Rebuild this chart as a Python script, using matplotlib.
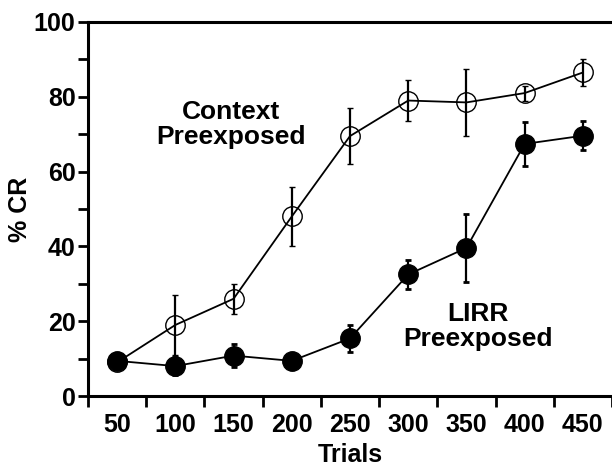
import numpy as np
import matplotlib
matplotlib.use("Agg")
import matplotlib.pyplot as plt
from matplotlib.ticker import FixedLocator, NullFormatter

plt.rcParams['font.family'] = ['Liberation Sans', 'DejaVu Sans']
plt.rcParams['font.weight'] = 'bold'

trials = [50, 100, 150, 200, 250, 300, 350, 400, 450]
context_mean = [9, 19, 26, 48, 69.5, 79, 78.5, 81, 86.5]
context_err = [1, 8, 4, 8, 7.5, 5.5, 9, 2, 3.5]
lirr_mean = [9.4, 8, 10.8, 9.4, 15.4, 32.5, 39.6, 67.4, 69.6]
lirr_err = [1, 2.5, 3, 1, 3.5, 4, 9, 5.8, 3.8]

fig = plt.figure(figsize=(6.12, 4.68), dpi=100)
ax = fig.add_axes([0.1438, 0.1538, 0.8562, 0.7992])

x = np.arange(len(trials)) + 0.5

ax.errorbar(x, context_mean, yerr=context_err, color='black', lw=1.3,
            marker='o', ms=14, mfc='none', mec='black', mew=1.0,
            elinewidth=1.6, capsize=2.5, capthick=2, zorder=3)
ax.errorbar(x, lirr_mean, yerr=lirr_err, color='black', lw=1.3,
            marker='o', ms=14, mfc='black', mec='black',
            elinewidth=1.6, capsize=2.5, capthick=2, zorder=4)

ax.set_xlim(0, len(trials))
ax.set_ylim(0, 100)

ax.xaxis.set_major_locator(FixedLocator(np.arange(len(trials) + 1)))
ax.xaxis.set_major_formatter(NullFormatter())
ax.xaxis.set_minor_locator(FixedLocator(x))
ax.set_xticklabels([str(t) for t in trials], minor=True)
ax.tick_params(axis='x', which='major', length=8, width=2, direction='out')
ax.tick_params(axis='x', which='minor', length=0, pad=12, labelsize=18)

ax.set_yticks([0, 20, 40, 60, 80, 100])
ax.yaxis.set_minor_locator(FixedLocator([10, 30, 50, 70, 90]))
ax.tick_params(axis='y', which='both', length=7, width=2, direction='out',
               labelsize=18, pad=2)

for side in ['left', 'bottom', 'top']:
    ax.spines[side].set_linewidth(2.2)
ax.spines['right'].set_visible(False)

ax.set_xlabel('Trials', fontsize=18, fontweight='bold', va='center')
ax.xaxis.set_label_coords(0.5, -0.158)
ax.set_ylabel('% CR', fontsize=18, fontweight='bold', va='center')
ax.yaxis.set_label_coords(-0.13, 0.5)

ax.text(2.45, 72.5, 'Context\nPreexposed', ha='center', va='center',
        fontsize=19, fontweight='bold', linespacing=1.05)
ax.text(6.7, 18.7, 'LIRR\nPreexposed', ha='center', va='center',
        fontsize=19, fontweight='bold', linespacing=1.05)

fig.savefig('out.png', dpi=100)
